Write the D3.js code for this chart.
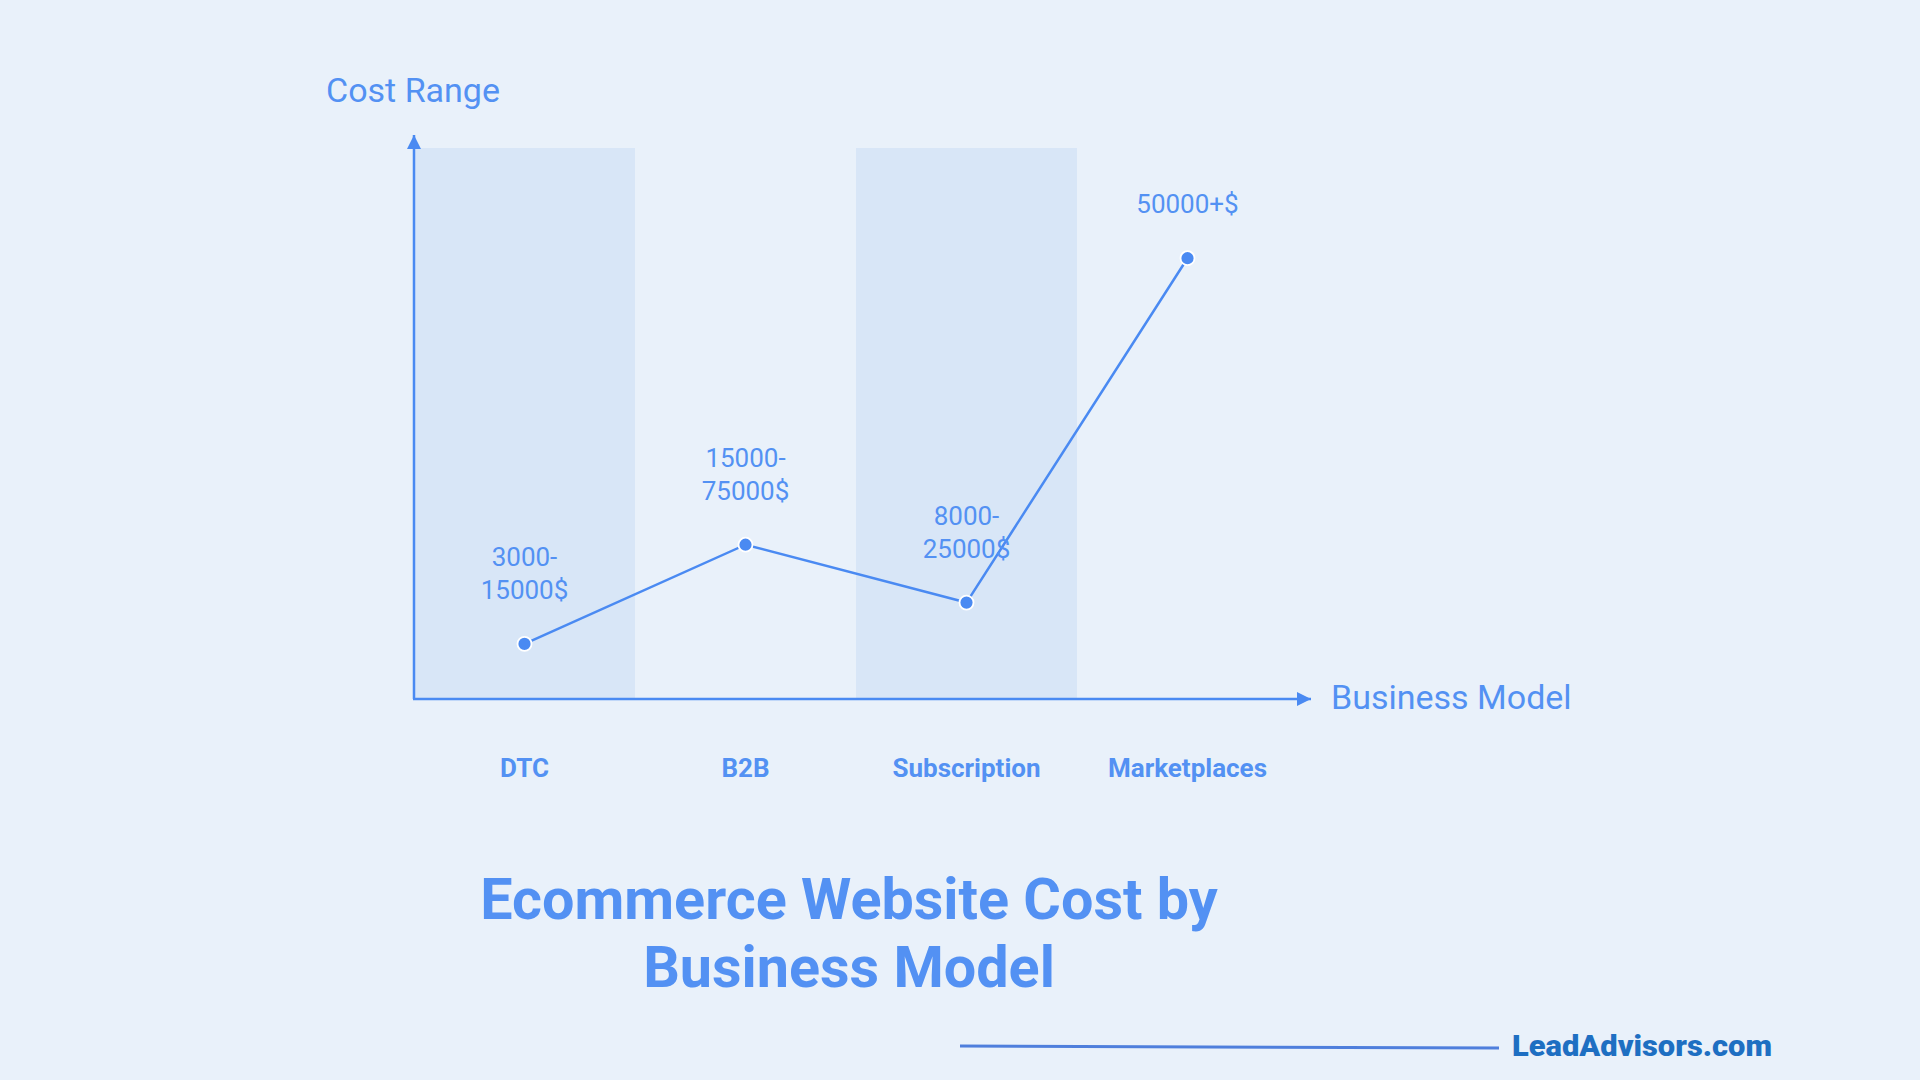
<!DOCTYPE html>
<html>
<head>
<meta charset="utf-8">
<script src="https://cdn.jsdelivr.net/npm/d3@7"></script>
<style>
  html, body { margin: 0; padding: 0; background: #e9f1fa; }
  svg { display: block; }
</style>
</head>
<body>
<svg id="chart" width="1920" height="1080"></svg>
<script>
// ---- data ----
const categories = ["DTC", "B2B", "Subscription", "Marketplaces"];
const costIndex = [10, 28, 17.5, 80];           // relative position on the unlabelled cost axis
const costLabels = [["3000-", "15000$"], ["15000-", "75000$"], ["8000-", "25000$"], ["50000+$"]];
const shadedCategories = ["DTC", "Subscription"];
const titleLines = ["Ecommerce Website Cost by", "Business Model"];
const yAxisTitle = "Cost Range";
const xAxisTitle = "Business Model";
const brand = "LeadAdvisors.com";

// ---- styles ----
const blue = "#4a8af2";
const textBlue = "#5391f3";
const bandFill = "#d8e6f7";

const svg = d3.select("#chart");
svg.append("rect").attr("width", 1920).attr("height", 1080).attr("fill", "#e9f1fa");

const x0 = 414, y0 = 699, yTop = 148;
const x = d3.scaleBand().domain(categories).range([x0, x0 + 4 * 221]).padding(0);
const y = d3.scaleLinear().domain([0, 100]).range([y0, yTop]);

// shaded bands
svg.append("g").selectAll("rect")
  .data(shadedCategories)
  .join("rect")
  .attr("x", d => x(d))
  .attr("y", y(100))
  .attr("width", x.bandwidth())
  .attr("height", y(0) - y(100))
  .attr("fill", bandFill);

// axes with arrows
const defs = svg.append("defs");
defs.append("marker")
  .attr("id", "arrow")
  .attr("viewBox", "0 0 10 10")
  .attr("refX", 10).attr("refY", 5)
  .attr("markerUnits", "userSpaceOnUse")
  .attr("markerWidth", 14).attr("markerHeight", 15)
  .attr("orient", "auto")
  .append("path").attr("d", "M0,0 L10,5 L0,10 Z").attr("fill", blue);

svg.append("line")
  .attr("x1", x0).attr("y1", y0).attr("x2", x0).attr("y2", 135)
  .attr("stroke", blue).attr("stroke-width", 2.5)
  .attr("marker-end", "url(#arrow)");
svg.append("line")
  .attr("x1", x0 - 1).attr("y1", y0).attr("x2", 1311).attr("y2", y0)
  .attr("stroke", blue).attr("stroke-width", 2.5)
  .attr("marker-end", "url(#arrow)");

// category labels (axis)
const xAxis = d3.axisBottom(x).tickSize(0).tickPadding(0);
const gx = svg.append("g").attr("transform", `translate(0, ${y0})`).call(xAxis);
gx.select(".domain").remove();
gx.selectAll("text")
  .attr("y", 78)
  .attr("dy", 0)
  .attr("fill", textBlue)
  .attr("font-family", "Roboto")
  .attr("font-weight", "bold")
  .attr("font-size", 26);

// axis titles
svg.append("text").text(yAxisTitle)
  .attr("x", 326).attr("y", 102)
  .attr("fill", textBlue).attr("font-family", "Roboto").attr("font-size", 34);
svg.append("text").text(xAxisTitle)
  .attr("x", 1331).attr("y", 709)
  .attr("fill", textBlue).attr("font-family", "Roboto").attr("font-size", 34);

// line
const pts = categories.map((c, i) => ({ c, v: costIndex[i], lab: costLabels[i] }));
const cx = d => x(d.c) + x.bandwidth() / 2;
svg.append("path")
  .datum(pts)
  .attr("d", d3.line().x(cx).y(d => y(d.v)))
  .attr("fill", "none").attr("stroke", blue).attr("stroke-width", 2.5);

// value labels
const lg = svg.append("g");
pts.forEach(d => {
  const n = d.lab.length;
  const t = lg.append("text")
    .attr("text-anchor", "middle")
    .attr("fill", textBlue)
    .attr("font-family", "Roboto")
    .attr("font-size", 26);
  d.lab.forEach((s, i) => {
    t.append("tspan").text(s)
      .attr("x", cx(d))
      .attr("y", y(d.v) - 45 - (n - 1 - i) * 33);
  });
});

// points
svg.append("g").selectAll("circle")
  .data(pts)
  .join("circle")
  .attr("cx", cx).attr("cy", d => y(d.v))
  .attr("r", 7)
  .attr("fill", blue).attr("stroke", "#ffffff").attr("stroke-width", 1.8);

// title
const title = svg.append("text")
  .attr("text-anchor", "middle")
  .attr("fill", textBlue)
  .attr("font-family", "Roboto")
  .attr("font-weight", "bold")
  .attr("font-size", 57.5);
titleLines.forEach((s, i) => {
  title.append("tspan").text(s).attr("x", 849).attr("y", 919 + i * 68);
});

// footer
svg.append("line")
  .attr("x1", 960).attr("y1", 1046).attr("x2", 1499).attr("y2", 1048)
  .attr("stroke", "#4f7fdc").attr("stroke-width", 3);
svg.append("text").text(brand)
  .attr("x", 1512).attr("y", 1056)
  .attr("fill", "#1e6fc2")
  .attr("font-family", "Roboto")
  .attr("font-weight", "900")
  .attr("font-size", 30)
  .attr("textLength", 260)
  .attr("lengthAdjust", "spacingAndGlyphs");
</script>
</body>
</html>
